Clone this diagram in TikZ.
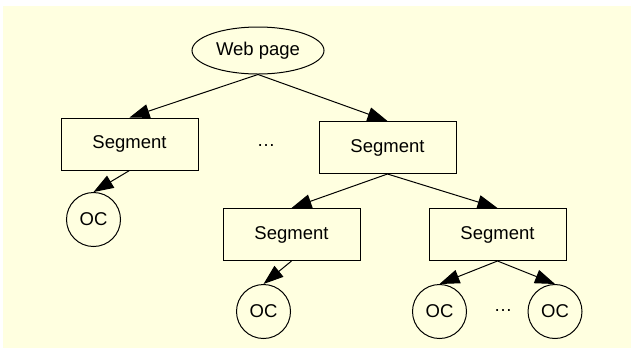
\documentclass[tikz,border=0pt]{standalone}
\usepackage{fontspec}
\setmainfont{Liberation Sans}
\usetikzlibrary{arrows.meta,shapes.geometric}
\definecolor{cream}{RGB}{255,255,224}
\begin{document}
\begin{tikzpicture}[x=1pt,y=-1pt,
  every node/.style={font=\fontsize{18.5}{22}\selectfont},
  seg/.style={draw,rectangle,line width=1pt,minimum width=137pt,minimum height=52pt,inner sep=0pt},
  oc/.style={draw,circle,line width=1pt,minimum size=54pt,inner sep=0pt},
  page/.style={draw,ellipse,line width=1pt,minimum width=132pt,minimum height=47pt,inner sep=0pt},
  link/.style={line width=1pt,-{Triangle[length=20pt,width=14pt]}}]
\useasboundingbox (0,0) rectangle (631,349);
\fill[cream] (3,6) rectangle (631,348);

% root and first level
\node[page] (wp) at (258,50.5) {Web page};
\node[seg] (s1) at (129.5,144) {Segment};
\node[seg] (s2) at (387.5,147.5) {Segment};
\node (d1) at (266,146) {\ldots};

% second level
\node[oc] (o1) at (93.5,219.5) {OC};
\node[seg] (s3) at (291.5,234.5) {Segment};
\node[seg] (s4) at (497.5,234.5) {Segment};

% leaves
\node[oc] (o2) at (263.5,311.5) {OC};
\node[oc] (o3) at (439.5,311.5) {OC};
\node[oc] (o4) at (555,311.5) {OC};
\node (d2) at (503,311) {\ldots};

% connectors
\draw[link] (wp.south) -- (s1.north);
\draw[link] (wp.south) -- (s2.north);
\draw[link] (s1.south) -- (o1.north);
\draw[link] (s2.south) -- (s3.north);
\draw[link] (s2.south) -- (s4.north);
\draw[link] (s3.south) -- (o2.north);
\draw[link] (s4.south) -- (o3.north);
\draw[link] (s4.south) -- (o4.north);
\end{tikzpicture}
\end{document}
